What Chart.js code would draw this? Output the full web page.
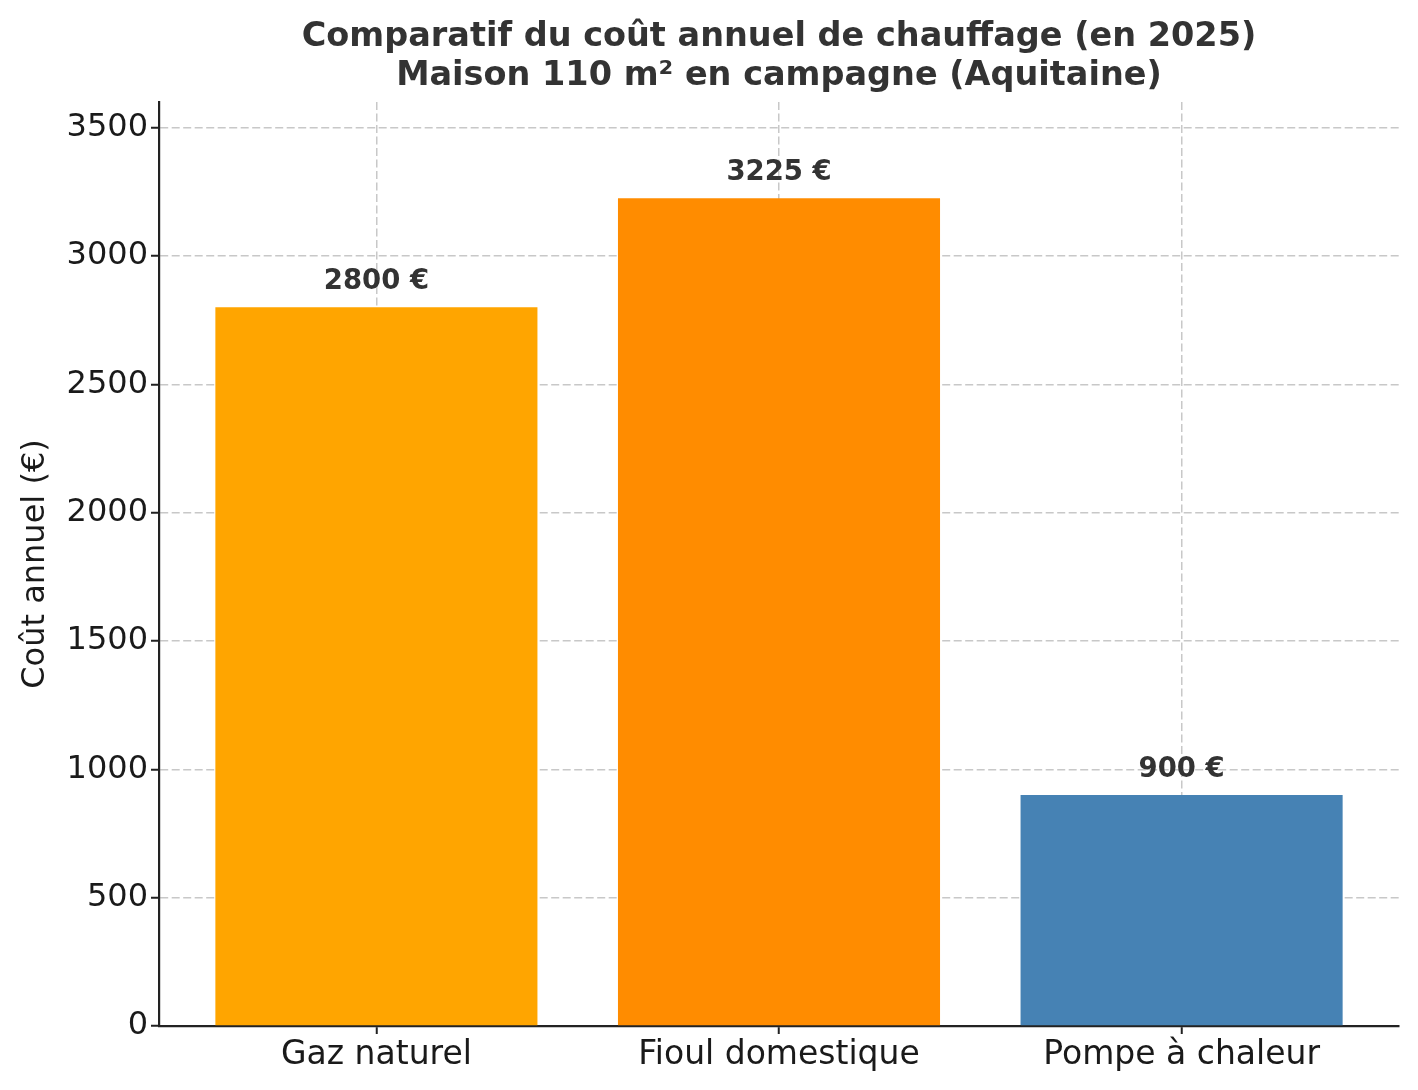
<!DOCTYPE html>
<html>
<head>
<meta charset="utf-8">
<script src="https://cdn.jsdelivr.net/npm/chart.js@4.4.1/dist/chart.umd.min.js"></script>
<style>
  html, body { margin: 0; padding: 0; background: #ffffff; }
  #wrap { width: 1418px; height: 1090px; }
</style>
</head>
<body>
<div id="wrap"><canvas id="c" width="1418" height="1090"></canvas></div>
<script>
const categories = ["Gaz naturel", "Fioul domestique", "Pompe à chaleur"];
const costs = [2800, 3225, 900];
const barColors = ["#FFA500", "#FF8C00", "#4682B4"];
const valueLabels = ["2800 €", "3225 €", "900 €"];
const yTicks = [0, 500, 1000, 1500, 2000, 2500, 3000, 3500];
const titleLines = ["Comparatif du coût annuel de chauffage (en 2025)", "Maison 110 m² en campagne (Aquitaine)"];
const yAxisTitle = "Coût annuel (€)";

const FONT = "'DejaVu Sans', sans-serif";

const overlayPlugin = {
  id: 'overlay',
  afterDraw(chart) {
    const ctx = chart.ctx;
    const area = chart.chartArea;
    const xs = chart.scales.x, ys = chart.scales.y;
    ctx.save();
    ctx.fillStyle = '#333333';
    ctx.font = "bold 33.5px " + FONT;
    ctx.textAlign = 'center';
    ctx.textBaseline = 'middle';
    const cx = (area.left + area.right) / 2;
    ctx.fillText(titleLines[0], cx, 37);
    ctx.fillText(titleLines[1], cx, 76);
    ctx.font = "bold 27.5px " + FONT;
    ctx.textBaseline = 'alphabetic';
    costs.forEach((v, i) => {
      ctx.fillText(valueLabels[i], xs.getPixelForValue(i), ys.getPixelForValue(v) - 18);
    });
    ctx.restore();
  }
};

const gridOpts = {
  color: 'rgba(176,176,176,0.7)',
  lineWidth: 1.5,
  tickLength: 8,
  tickColor: '#222222',
  tickWidth: 2,
  tickBorderDash: [],
  offset: false
};

new Chart(document.getElementById('c'), {
  type: 'bar',
  data: {
    datasets: [{
      data: costs.map((v, i) => ({ x: i, y: v })),
      backgroundColor: barColors,
      borderWidth: 0,
      barPercentage: 0.8,
      categoryPercentage: 1.0
    }]
  },
  options: {
    responsive: false,
    animation: false,
    devicePixelRatio: 1,
    layout: { padding: { top: 102, right: 19, left: 0, bottom: 0 } },
    plugins: {
      legend: { display: false },
      tooltip: { enabled: false },
      title: { display: false }
    },
    scales: {
      x: {
        type: 'linear',
        min: -0.54,
        max: 2.54,
        offset: false,
        z: 1,
        afterBuildTicks(scale) { scale.ticks = categories.map((c, i) => ({ value: i })); },
        afterFit(scale) { scale.height = 64; },
        ticks: {
          callback: (val) => categories[val],
          font: { family: FONT, size: 33 },
          color: '#1a1a1a',
          padding: 2,
          maxRotation: 0,
          autoSkip: false
        },
        grid: gridOpts,
        border: { display: true, color: '#222222', width: 2.2, dash: [8, 3.5] }
      },
      y: {
        min: 0,
        max: 3600,
        z: 1,
        afterBuildTicks(scale) { scale.ticks = yTicks.map(v => ({ value: v })); },
        afterFit(scale) { scale.width = 159; },
        ticks: {
          callback: (val) => String(val),
          font: { family: FONT, size: 32 },
          color: '#1a1a1a',
          padding: 3
        },
        title: {
          display: true,
          text: yAxisTitle,
          font: { family: FONT, size: 32 },
          color: '#1a1a1a',
          padding: { top: 16, bottom: 0 }
        },
        grid: gridOpts,
        border: { display: true, color: '#222222', width: 2.2, dash: [8, 3.5] }
      }
    }
  },
  plugins: [overlayPlugin]
});
</script>
</body>
</html>
